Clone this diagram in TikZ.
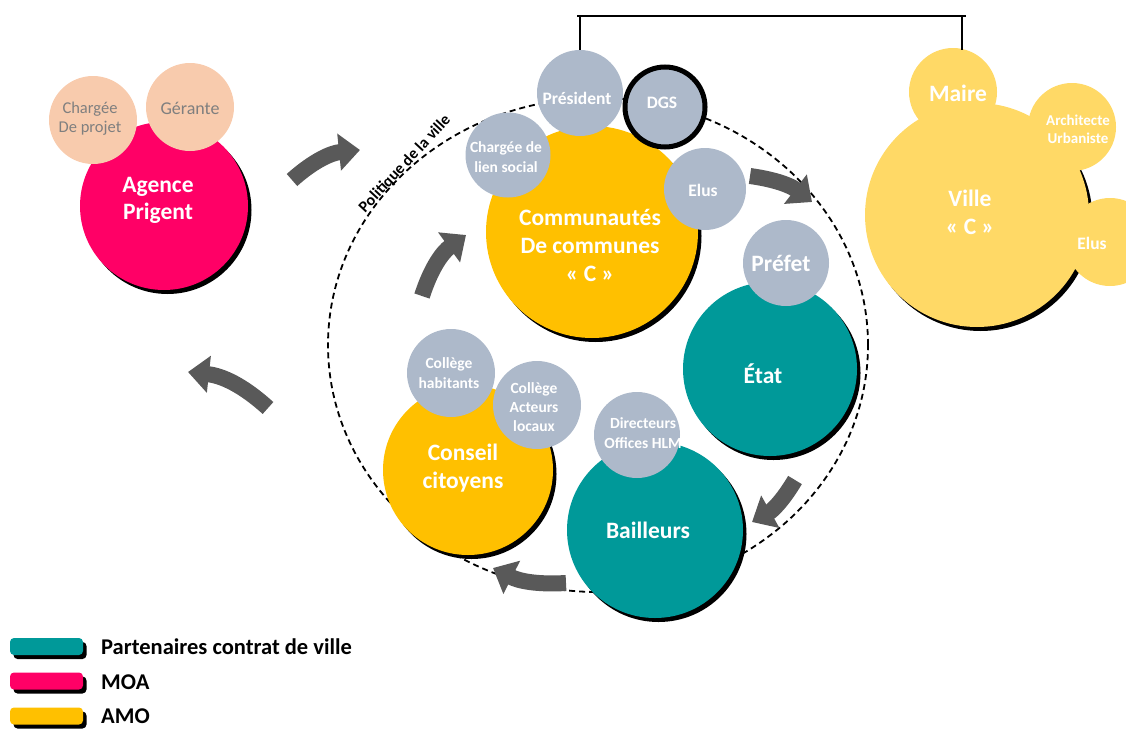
\documentclass[tikz,border=0pt]{standalone}
\usepackage{fontspec}
\setmainfont{Carlito}
\usetikzlibrary{arrows.meta,shadows,calc}
\definecolor{cpink}{HTML}{FF0066}
\definecolor{cpeach}{HTML}{F8CBAD}
\definecolor{cyel}{HTML}{FFC000}
\definecolor{cgray}{HTML}{ADB9CA}
\definecolor{cteal}{HTML}{009999}
\definecolor{cville}{HTML}{FFD966}
\definecolor{cgtext}{HTML}{7F7F7F}
\definecolor{carrow}{HTML}{595959}
\begin{document}
\begin{tikzpicture}[x=1pt,y=-1pt,
  disc/.style={circle, inner sep=0pt, minimum size=#1},
  shad/.style={drop shadow={shadow xshift=3.5pt,shadow yshift=-4pt,opacity=1,fill=black}},
  wbig/.style={text=white, font=\bfseries\fontsize{23.5}{28}\selectfont, align=center, inner sep=0pt},
  wmid/.style={text=white, font=\bfseries\fontsize{17.5}{20}\selectfont, align=center, inner sep=0pt},
  wsm/.style={text=white, font=\bfseries\fontsize{15.5}{19.5}\selectfont, align=center, inner sep=0pt},
  gtx/.style={text=cgtext, font=\fontsize{16.5}{19}\selectfont, align=center, inner sep=0pt},
  flow/.style={draw=carrow, line width=16pt, -{Triangle[length=21pt,width=36pt]}},
  legbox/.style={rounded corners=4pt, minimum width=73pt, minimum height=17pt, inner sep=0pt, shad},
  legtxt/.style={anchor=west, text=black, font=\bfseries\fontsize{22.5}{24}\selectfont, inner sep=0pt},
]
\useasboundingbox (0,0) rectangle (1126,728);

% dashed ellipse
\draw[black, line width=1.8pt, dash pattern=on 6pt off 4pt] (598,345) ellipse [x radius=270pt, y radius=247pt];
\node[rotate=47, text=black, font=\bfseries\fontsize{16}{18}\selectfont, inner sep=0pt] (pol) at (405,164) {Politique de la ville};

% Agence Prigent
\node[disc=168pt, fill=cpink, shad] (prig) at (164,206) {};
\node[wbig, font=\bfseries\fontsize{23.5}{27}\selectfont] (prigt) at (158,200) {Agence\\Prigent};
\node[disc=88pt, fill=cpeach] (chp) at (93,120) {};
\node[gtx] (chpt) at (90,119) {Chargée\\De projet};
\node[disc=88pt, fill=cpeach] (ger) at (190,107) {};
\node[gtx, font=\fontsize{18}{20}\selectfont] (gert) at (190,108) {Gérante};

% Communautés de communes
\node[disc=212pt, fill=cyel, shad] (comm) at (592,232) {};
\node[wbig] (commt) at (590,245) {Communautés\\De communes\\« C »};
\node[disc=86pt, fill=cgray] (pres) at (580,93) {};
\node[wmid] (prest) at (577,98) {Président};
\node[disc=80pt, fill=cgray, draw=black, line width=5pt] (dgs) at (665,107) {};
\node[wmid] (dgst) at (662,103) {DGS};
\node[disc=85pt, fill=cgray] (chl) at (508,155) {};
\node[wsm] (chlt) at (506,157) {Chargée de\\lien social};
\node[disc=82pt, fill=cgray] (elc) at (705,189) {};
\node[wmid] (elct) at (703,190) {Elus};

% Ville
\node[disc=224pt, fill=cville, shad] (ville) at (977,215) {};
\node[wbig] (villet) at (970,212) {Ville\\« C »};
\node[disc=88pt, fill=cville] (maire) at (953,92) {};
\node[wbig] (mairet) at (958,93) {Maire};
\node[disc=88pt, fill=cville] (arch) at (1072,127) {};
\node[wsm, font=\bfseries\fontsize{15}{18}\selectfont] (archt) at (1078,129) {Architecte\\Urbaniste};
\node[disc=88pt, fill=cville] (elv) at (1110,242) {};
\node[wmid] (elvt) at (1092,243) {Elus};

% bracket
\coordinate (brk) at (770,16);
\draw[line width=1.8pt] (pres.north) |- (brk) -| ($(maire.north)+(9,2)$);
\draw[line width=1.8pt] (577,16) -- (966,16);

% Etat
\node[disc=174pt, fill=cteal, shad] (etat) at (770,369) {};
\node[wbig] (etatt) at (763,374) {État};
\node[disc=86pt, fill=cgray] (pref) at (786,263) {};
\node[wbig] (preft) at (781,263) {Préfet};

% Bailleurs
\node[disc=176pt, fill=cteal, shad] (bail) at (655,530) {};
\node[wbig] (bailt) at (648,530) {Bailleurs};
\node[disc=86pt, fill=cgray] (dir) at (637,435) {};
\node[wsm] (dirt) at (643,433) {Directeurs\\Offices HLM};

% Conseil citoyens
\node[disc=170pt, fill=cyel, shad] (cons) at (468,470) {};
\node[wbig] (const) at (463,468) {Conseil\\citoyens};
\node[disc=88pt, fill=cgray] (colh) at (451,373) {};
\node[wsm] (colht) at (449,373) {Collège\\habitants};
\node[disc=88pt, fill=cgray] (cola) at (537,405) {};
\node[wsm, font=\bfseries\fontsize{15.5}{19}\selectfont] (colat) at (534,407) {Collège\\Acteurs\\locaux};

% arrows
\coordinate (a1s) at (292,180); \coordinate (a1e) at (360,150);
\draw[flow] (a1s) to[bend left=18] (a1e);
\coordinate (a2s) at (268,408); \coordinate (a2e) at (188,372);
\draw[flow] (a2s) to[bend right=18] (a2e);
\coordinate (a3s) at (422,296); \coordinate (a3e) at (466,235);
\draw[flow] (a3s) to[bend left=18] (a3e);
\coordinate (a4s) at (750,176); \coordinate (a4e) at (812,202);
\draw[flow] (a4s) to[bend left=15] (a4e);
\coordinate (a5s) at (795,480); \coordinate (a5e) at (752,522);
\draw[flow] (a5s) to[bend left=15] (a5e);
\coordinate (a6s) at (566,583); \coordinate (a6e) at (493,568);
\draw[flow] (a6s) to[bend left=15] (a6e);

% legend
\node[legbox, fill=cteal] (l1) at (46.5,646.5) {};
\node[legtxt] (l1t) at (101,647) {Partenaires contrat de ville};
\node[legbox, fill=cpink] (l2) at (46.5,681) {};
\node[legtxt] (l2t) at (101,682) {MOA};
\node[legbox, fill=cyel] (l3) at (46.5,716) {};
\node[legtxt] (l3t) at (101,716) {AMO};
\end{tikzpicture}
\end{document}
